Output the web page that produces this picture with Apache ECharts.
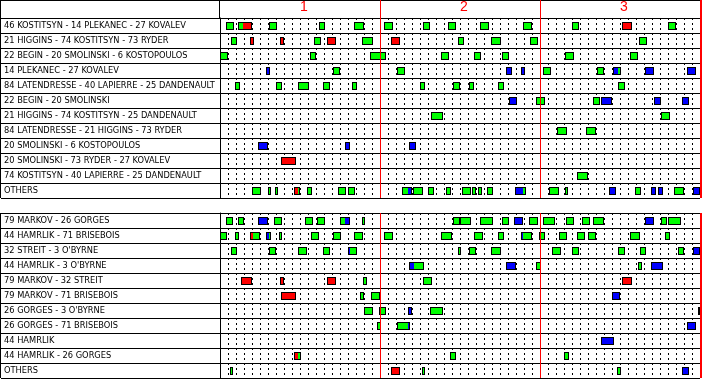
<!DOCTYPE html>
<html>
<head>
<meta charset="utf-8">
<script src="https://cdn.jsdelivr.net/npm/echarts@6/dist/echarts.min.js"></script>
<style>
html,body{margin:0;padding:0;background:#fff;}
#main{width:702px;height:379px;}
</style>
</head>
<body>
<div id="main"></div>
<script>
const periods=['1','2','3'];
const forwardLines=[
	'46 KOSTITSYN - 14 PLEKANEC - 27 KOVALEV',
	'21 HIGGINS - 74 KOSTITSYN - 73 RYDER',
	'22 BEGIN - 20 SMOLINSKI - 6 KOSTOPOULOS',
	'14 PLEKANEC - 27 KOVALEV',
	'84 LATENDRESSE - 40 LAPIERRE - 25 DANDENAULT',
	'22 BEGIN - 20 SMOLINSKI',
	'21 HIGGINS - 74 KOSTITSYN - 25 DANDENAULT',
	'84 LATENDRESSE - 21 HIGGINS - 73 RYDER',
	'20 SMOLINSKI - 6 KOSTOPOULOS',
	'20 SMOLINSKI - 73 RYDER - 27 KOVALEV',
	'74 KOSTITSYN - 40 LAPIERRE - 25 DANDENAULT',
	'OTHERS'
];
const defenceLines=[
	'79 MARKOV - 26 GORGES',
	'44 HAMRLIK - 71 BRISEBOIS',
	"32 STREIT - 3 O'BYRNE",
	"44 HAMRLIK - 3 O'BYRNE",
	'79 MARKOV - 32 STREIT',
	'79 MARKOV - 71 BRISEBOIS',
	"26 GORGES - 3 O'BYRNE",
	'26 GORGES - 71 BRISEBOIS',
	'44 HAMRLIK',
	'44 HAMRLIK - 26 GORGES',
	'OTHERS'
];
// [row, start minute, end minute, situation]  E even strength, SH short handed, PP power play
const forwardShifts=[
	[0,0.75,1.75,'E'],[0,2.25,2.88,'E'],[0,2.88,4,'SH'],[0,6.13,7.13,'E'],[0,12.38,13.13,'E'],[0,16.75,18,'E'],[0,20.5,21.63,'E'],[0,25.38,26.25,'E'],[0,28.5,29.5,'E'],[0,32.5,33.63,'E'],[0,37.88,39,'E'],[0,44,44.88,'E'],[0,50.25,51.5,'SH'],[0,56,57,'E'],
	[1,1.38,2.13,'E'],[1,3.75,4.25,'SH'],[1,7.5,8,'SH'],[1,11.75,12.63,'E'],[1,13.38,14.5,'SH'],[1,17.75,19.13,'E'],[1,21.38,22.5,'SH'],[1,29.75,30.5,'E'],[1,33.88,35.13,'E'],[1,38.75,39.75,'E'],[1,52.38,53.38,'E'],
	[2,0,1,'E'],[2,11.25,12,'E'],[2,18.75,20.75,'E'],[2,27.63,28.63,'E'],[2,31.75,32.63,'E'],[2,35.25,36.13,'E'],[2,43.13,44.25,'E'],[2,51.25,52.25,'E'],
	[3,5.75,6.25,'PP'],[3,14.13,15,'E'],[3,22.13,23.13,'E'],[3,35.75,36.5,'PP'],[3,37.63,38.13,'PP'],[3,40.38,41.38,'E'],[3,47.13,48,'E'],[3,49.13,49.75,'PP'],[3,49.75,50.13,'E'],[3,53.13,54.25,'PP'],[3,58.38,59.5,'PP'],
	[4,1.88,2.5,'E'],[4,7,7.75,'E'],[4,9.75,11.13,'E'],[4,12.88,13.75,'E'],[4,16.5,17.13,'E'],[4,25,25.63,'E'],[4,29.13,30,'E'],[4,31.13,31.75,'E'],[4,34.75,35.5,'E'],[4,49.75,50.63,'E'],
	[5,36.13,37.13,'PP'],[5,39.5,40.63,'E'],[5,46.63,47.5,'E'],[5,47.63,49,'PP'],[5,54.25,55.13,'PP'],[5,57.75,58.63,'PP'],
	[6,26.38,27.88,'E'],[6,55.13,56.25,'E'],
	[7,42.13,43.38,'E'],[7,45.75,47,'E'],
	[8,4.75,6,'PP'],[8,15.63,16.25,'PP'],[8,23.63,24.5,'PP'],
	[9,7.63,9.5,'SH'],
	[10,44.63,46,'E'],
	[11,4,5.13,'E'],[11,6,6.38,'E'],[11,6.88,7.25,'E'],[11,9.25,9.75,'SH'],[11,9.75,10,'E'],[11,10.88,11.5,'E'],[11,14.75,15.75,'E'],[11,16,16.88,'E'],[11,22.75,23.5,'E'],[11,23.5,24,'PP'],[11,24.13,25.38,'E'],[11,26,26.75,'E'],[11,28.25,28.88,'E'],[11,30.25,31.38,'E'],[11,31.5,32,'E'],[11,32.25,32.75,'E'],[11,33.38,34.13,'E'],[11,36.88,37.88,'PP'],[11,37.88,38.25,'E'],[11,41.13,42.38,'E'],[11,43.13,43.5,'E'],[11,48.63,49.5,'PP'],[11,51.88,52.63,'E'],[11,53.88,54.5,'PP'],[11,54.75,55.38,'PP'],[11,56.75,58,'E'],[11,59.13,60,'PP']
];
const defenceShifts=[
	[0,0.75,1.63,'E'],[0,2.25,3,'E'],[0,4.75,6,'PP'],[0,6.75,7.75,'E'],[0,10.63,11.63,'E'],[0,12.13,13.13,'E'],[0,15,15.63,'E'],[0,15.63,16.25,'PP'],[0,17.75,18.13,'E'],[0,29.13,30,'E'],[0,30,31.38,'E'],[0,32.5,34.13,'E'],[0,35.25,36.13,'E'],[0,36.75,37.88,'PP'],[0,38.63,39.75,'E'],[0,40.38,41.88,'E'],[0,43.25,44.25,'E'],[0,45.25,46.25,'E'],[0,46.63,48,'E'],[0,53.13,54.25,'PP'],[0,55.13,55.88,'E'],[0,56,57.63,'E'],
	[1,0,0.88,'E'],[1,1.88,2.38,'E'],[1,3.75,4.13,'SH'],[1,4.13,5,'E'],[1,5.75,6.13,'PP'],[1,6.13,6.38,'E'],[1,7.38,7.75,'E'],[1,11.38,12.38,'E'],[1,14.13,15.13,'E'],[1,16.75,17.88,'E'],[1,20.5,21.63,'E'],[1,27.63,29,'E'],[1,31.75,32.88,'E'],[1,34.75,35.5,'E'],[1,37.63,37.88,'PP'],[1,37.88,39,'E'],[1,39.88,40.63,'E'],[1,42.38,43.38,'E'],[1,44.63,45.63,'E'],[1,46,47,'E'],[1,51.25,52.5,'E'],[1,55.63,56.25,'E'],
	[2,1.38,2.13,'E'],[2,6.13,7,'E'],[2,9.75,10.88,'E'],[2,12.88,13.75,'E'],[2,16,16.25,'PP'],[2,16.25,17.13,'E'],[2,29.75,30.13,'E'],[2,31.13,32,'E'],[2,33.88,35.13,'E'],[2,41.5,42.63,'E'],[2,44,44.88,'E'],[2,49.75,50.63,'E'],[2,52.5,53.25,'E'],[2,57.25,58,'E'],[2,59.13,60,'PP'],
	[3,23.63,24.25,'PP'],[3,24.25,25.5,'E'],[3,35.75,37,'PP'],[3,39.5,40.13,'E'],[3,52.25,52.75,'E'],[3,53.88,55.38,'PP'],
	[4,2.63,4,'SH'],[4,7.5,8,'SH'],[4,13.38,14.5,'SH'],[4,17.88,18.38,'E'],[4,25.38,26.5,'E'],[4,50.25,51.5,'SH'],
	[5,7.63,9.5,'SH'],[5,17.5,18,'E'],[5,18.88,20,'E'],[5,49,50,'PP'],
	[6,18,19.13,'E'],[6,19.88,20.75,'E'],[6,23.5,24,'PP'],[6,26.25,27.88,'E'],[6,59.75,60,'PP'],
	[7,19.63,20.13,'E'],[7,22.13,23.5,'E'],[7,23.5,23.75,'PP'],[7,58.38,59.5,'PP'],
	[8,47.63,49.25,'PP'],
	[9,9.25,9.75,'SH'],[9,9.75,10.13,'E'],[9,28.75,29.5,'E'],[9,43,43.63,'E'],
	[10,1.25,1.63,'E'],[10,21.38,22.5,'SH'],[10,25.25,25.63,'E'],[10,49.63,50.13,'E'],[10,57.75,58.63,'PP']
];

const colors={E:'#00ff00',SH:'#ff0000',PP:'#0000ff'};
const labelFont='"DejaVu Sans Condensed","Liberation Sans",sans-serif';
const minuteColors=[],periodColors=['rgba(0,0,0,0)','#f00','#f00','#f00'];
for(let m=0;m<=60;m++) minuteColors.push(m%20?'#000':'rgba(0,0,0,0)');

// one shift can change situation part way: no border between those pieces
function shiftRenderer(shifts){
	return function(params,api){
		const i=params.dataIndex,s=shifts[i],prev=shifts[i-1],next=shifts[i+1];
		const joinL=prev&&prev[0]===s[0]&&prev[2]===s[1]&&prev[3]!==s[3];
		const joinR=next&&next[0]===s[0]&&next[1]===s[2]&&next[3]!==s[3];
		const a=api.coord([api.value(1),api.value(0)]),b=api.coord([api.value(2),api.value(0)]);
		const x1=Math.round(a[0]),x2=Math.round(b[0]),y=Math.round(a[1])-4;
		const children=[{type:'rect',shape:{x:x1,y:y,width:x2-x1,height:8},style:{fill:colors[s[3]]}}];
		const edges=[[x1,y+.5,x2,y+.5],[x1,y+7.5,x2,y+7.5]];
		if(!joinL) edges.push([x1+.5,y,x1+.5,y+8]);
		if(!joinR) edges.push([x2-.5,y,x2-.5,y+8]);
		edges.forEach(e=>children.push({type:'line',shape:{x1:e[0],y1:e[1],x2:e[2],y2:e[3]},style:{stroke:'#000',lineWidth:1}}));
		return {type:'group',children:children};
	};
}
function minuteAxis(g){
	return {gridIndex:g,type:'value',min:0,max:60,interval:1,axisLine:{show:false},axisTick:{show:false},axisLabel:{show:false},
		splitLine:{show:true,lineStyle:{color:minuteColors,type:[2,3],width:1}}};
}
function periodAxis(g){
	return {gridIndex:g,type:'value',min:0,max:60,interval:20,z:5,axisLine:{show:false},axisTick:{show:false},axisLabel:{show:false},
		splitLine:{show:true,lineStyle:{color:periodColors,width:1}}};
}
function lineAxis(g,lines){
	return {gridIndex:g,type:'category',inverse:true,data:lines,offset:1,
		axisLine:{show:true,lineStyle:{color:'#000',width:1}},
		axisTick:{show:true,interval:0,length:219,lineStyle:{color:'#000',width:1}},
		axisLabel:{interval:0,align:'left',margin:215,fontSize:9.2,fontFamily:labelFont,color:'#000'},
		splitLine:{show:true,interval:0,lineStyle:{color:'#000',width:1}}};
}
function seg(x1,y1,x2,y2,c){
	return {type:'line',silent:true,shape:{x1:x1,y1:y1,x2:x2,y2:y2},style:{stroke:c,lineWidth:1}};
}

const chart=echarts.init(document.getElementById('main'),null,{renderer:'canvas'});
chart.setOption({
	backgroundColor:'#fff',
	animation:false,
	grid:[
		{left:220,right:2,top:18,height:180},
		{left:220,right:2,top:213,height:165}
	],
	xAxis:[
		minuteAxis(0),periodAxis(0),minuteAxis(1),periodAxis(1),
		{gridIndex:0,type:'category',position:'top',data:periods,axisLine:{show:false},axisTick:{show:false},splitLine:{show:false},
			axisLabel:{color:'#f00',fontSize:14,fontFamily:'"Liberation Sans",sans-serif',align:'left',verticalAlign:'middle',margin:11}}
	],
	yAxis:[lineAxis(0,forwardLines),lineAxis(1,defenceLines)],
	series:[
		{type:'custom',xAxisIndex:0,yAxisIndex:0,z:3,renderItem:shiftRenderer(forwardShifts),data:forwardShifts.map(s=>s.slice(0,3))},
		{type:'custom',xAxisIndex:2,yAxisIndex:1,z:3,renderItem:shiftRenderer(defenceShifts),data:defenceShifts.map(s=>s.slice(0,3))}
	],
	graphic:[
		seg(0,0.5,702,0.5,'#000'),
		seg(0.5,0,0.5,198,'#000'),
		seg(0.5,213,0.5,378,'#000'),
		seg(219.5,0,219.5,18,'#000'),
		seg(380.5,0,380.5,18,'#f00'),
		seg(540.5,0,540.5,18,'#f00'),
		seg(700.5,0,700.5,18,'#f00'),
		seg(701.5,0,701.5,198,'#f00'),
		seg(701.5,213,701.5,378,'#f00')
	]
});
window.addEventListener('resize',function(){chart.resize();});
</script>
</body>
</html>
